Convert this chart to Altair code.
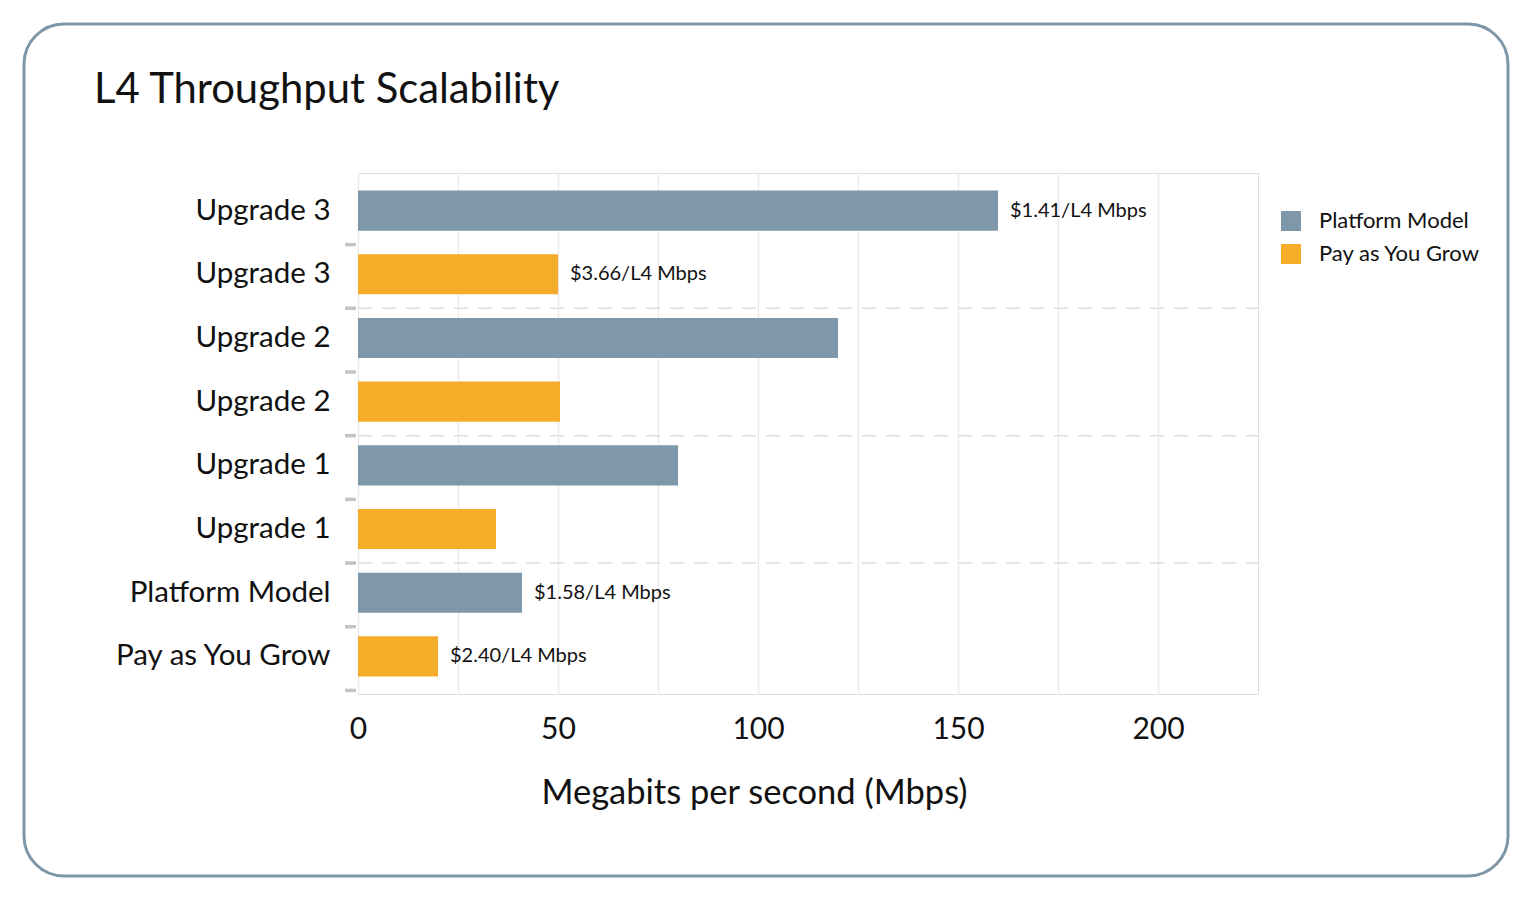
import altair as alt
import pandas as pd

# ---- data ----
keys = ["0", "1", "2", "3", "4", "5", "6", "7"]
row_labels = ["Upgrade 3", "Upgrade 3", "Upgrade 2", "Upgrade 2",
              "Upgrade 1", "Upgrade 1", "Platform Model", "Pay as You Grow"]
series = ["Platform Model", "Pay as You Grow", "Platform Model", "Pay as You Grow",
          "Platform Model", "Pay as You Grow", "Platform Model", "Pay as You Grow"]
values = [160, 50, 120, 50.5, 80, 34.5, 41, 20]
notes = ["$1.41/L4 Mbps", "$3.66/L4 Mbps", "", "", "", "", "$1.58/L4 Mbps", "$2.40/L4 Mbps"]
group_end = [False, True, False, True, False, True, False, False]
series_order = ["Platform Model", "Pay as You Grow"]
series_colors = ["#7e98aa", "#f5ac29"]
x_ticks = [0, 25, 50, 75, 100, 125, 150, 175, 200]
title_text = "L4 Throughput Scalability"

df = pd.DataFrame({"key": keys, "label": row_labels, "series": series,
                   "value": values, "note": notes, "group_end": group_end})
one = pd.DataFrame({"t": [title_text]})

FONT = "Lato"
W, H = 900, 521

label_expr = "[" + ",".join("'" + l + "'" for l in row_labels) + "][toNumber(datum.value)]"

y_enc = alt.Y("key:N", sort=keys,
              scale=alt.Scale(paddingInner=0.37, paddingOuter=0.275),
              axis=alt.Axis(labelExpr=label_expr, title=None, domain=False, ticks=False,
                            labelPadding=28, labelFontSize=29.5, labelFont=FONT,
                            labelColor="#111111", grid=False, labelLimit=0))
x_enc = alt.X("value:Q",
              scale=alt.Scale(domain=[0, 225], nice=False),
              axis=alt.Axis(values=x_ticks,
                            labelExpr="datum.value % 50 == 0 ? datum.label : ''",
                            title="Megabits per second (Mbps)",
                            titleFont=FONT, titleFontSize=34.5, titleFontWeight="normal",
                            titleColor="#111111", titleX=396, titleY=109,
                            titleAlign="center", titleBaseline="alphabetic",
                            labelFont=FONT, labelFontSize=30, labelColor="#111111",
                            labelPadding=20, labelFlush=False, ticks=False, domain=False,
                            grid=True, gridColor="#ebebeb", gridWidth=1.5))

bars = alt.Chart(df).mark_bar().encode(
    x=x_enc,
    y=y_enc,
    color=alt.Color("series:N",
                    scale=alt.Scale(domain=series_order, range=series_colors),
                    legend=alt.Legend(title=None, orient="none", legendX=922, legendY=37,
                                      symbolType="square", symbolSize=400,
                                      symbolStrokeWidth=0, labelFont=FONT,
                                      labelFontSize=22, labelColor="#111111",
                                      labelOffset=17, rowPadding=11, labelLimit=0)),
)

texts = alt.Chart(df).mark_text(align="left", baseline="middle", dx=12,
                                fontSize=20, font=FONT, color="#111111").encode(
    x="value:Q", y=alt.Y("key:N", sort=keys), text="note:N")

ticks = alt.Chart(df).mark_rule(yOffset=34, strokeWidth=3.5, color="#c4c4c4").encode(
    y=alt.Y("key:N", sort=keys), x=alt.value(-13), x2=alt.value(-2))

dashes = alt.Chart(df).transform_filter("datum.group_end").mark_rule(
    yOffset=34, strokeWidth=1.5, color="#dddddd", strokeDash=[14, 10]).encode(
    y=alt.Y("key:N", sort=keys), x=alt.value(0), x2=alt.value(W))

border = alt.Chart(one).mark_rect(cornerRadius=40, fill="white", fillOpacity=0,
                                  stroke="#7d97a8", strokeWidth=3).encode(
    x=alt.value(-334), x2=alt.value(1150), y=alt.value(-149), y2=alt.value(703))

title = alt.Chart(one).mark_text(align="left", baseline="alphabetic", font=FONT,
                                 fontSize=41.8, color="#111111").encode(
    x=alt.value(-264), y=alt.value(-70), text="t:N")

chart = alt.layer(border, dashes, bars, texts, ticks, title).properties(
    width=W, height=H,
    autosize=alt.AutoSizeParams(type="none"),
    padding={"left": 350, "top": 165, "right": 262, "bottom": 190},
).configure_view(stroke="#d0d0d0", strokeWidth=3.5).configure(background="white")

chart.save("out.html", embed_options={"renderer": "svg", "actions": False})
